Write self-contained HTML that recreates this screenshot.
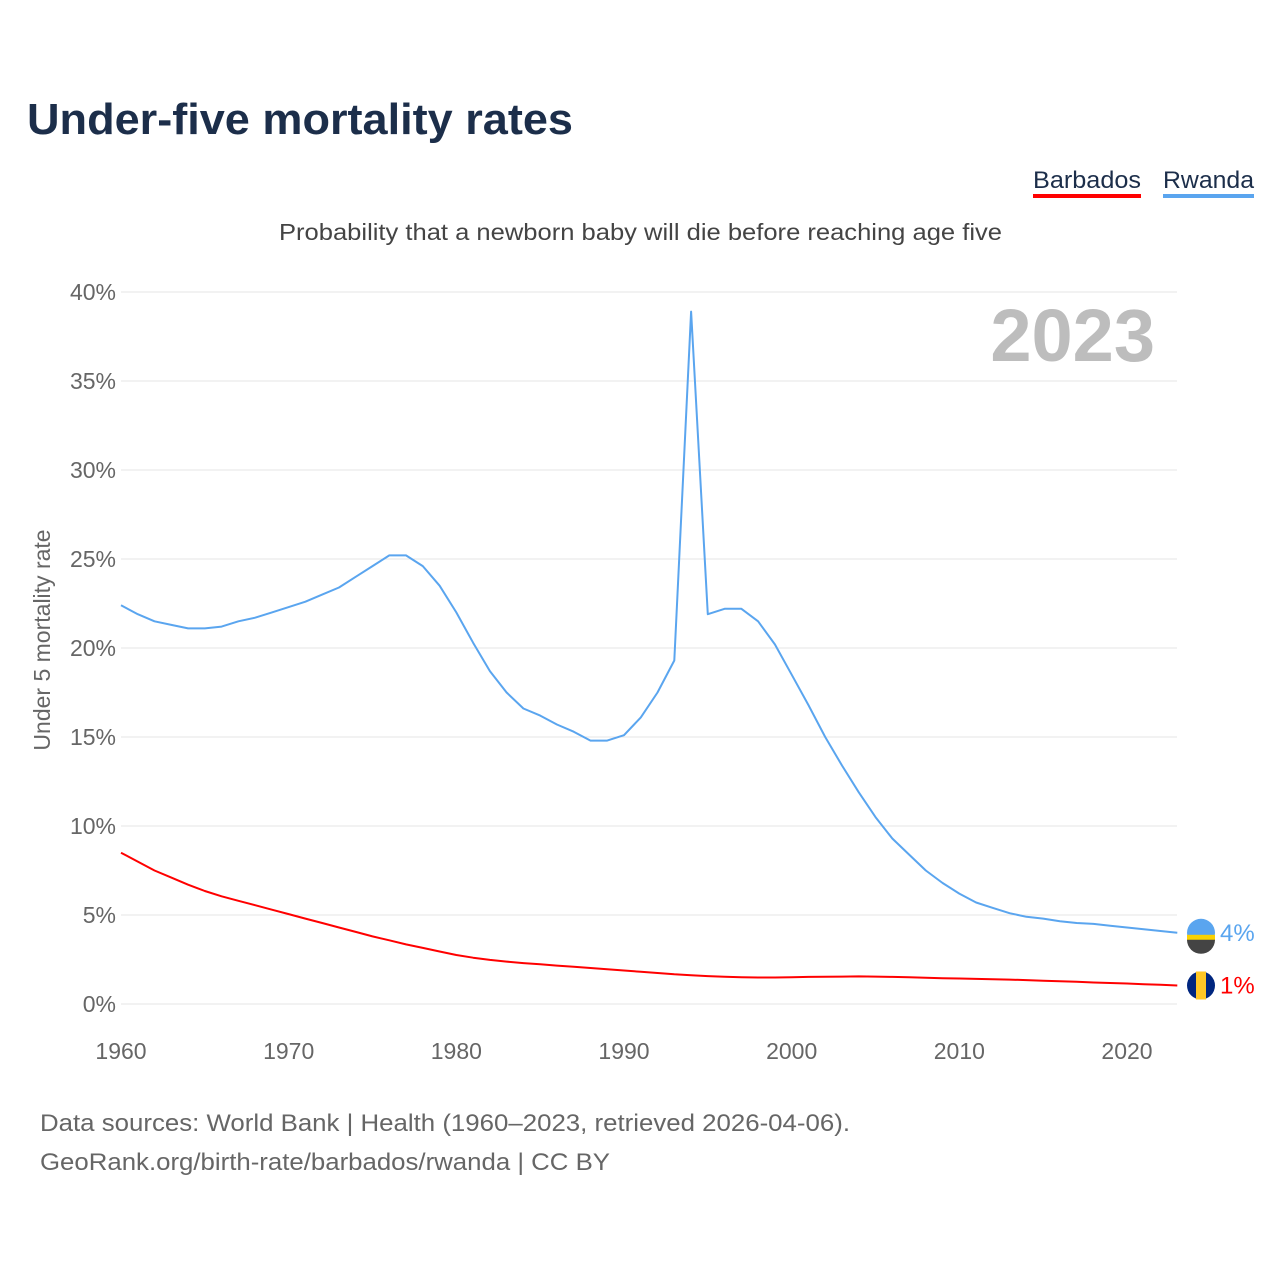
<!DOCTYPE html>
<html><head><meta charset="utf-8"><style>
body{margin:0;background:#fff;font-family:"Liberation Sans",sans-serif;}
</style></head><body>
<svg width="1280" height="1280" viewBox="0 0 1280 1280" xmlns="http://www.w3.org/2000/svg" font-family="Liberation Sans, sans-serif">
<text x="27" y="134" font-size="44" font-weight="bold" fill="#1c2e4a" textLength="546" lengthAdjust="spacingAndGlyphs">Under-five mortality rates</text>
<g><text x="1033" y="188" font-size="24" fill="#1c2e4a" textLength="108" lengthAdjust="spacingAndGlyphs">Barbados</text><rect x="1033" y="194" width="108" height="4" fill="#ff0000"/></g>
<g><text x="1163" y="188" font-size="24" fill="#1c2e4a" textLength="91" lengthAdjust="spacingAndGlyphs">Rwanda</text><rect x="1163" y="194" width="91" height="4" fill="#5aa5ef"/></g>
<text x="279" y="240" font-size="23" fill="#444" textLength="723" lengthAdjust="spacingAndGlyphs">Probability that a newborn baby will die before reaching age five</text>
<text x="1155" y="361" font-size="74" font-weight="bold" fill="#bdbdbd" text-anchor="end">2023</text>
<text transform="translate(50,640) rotate(-90)" font-size="23" fill="#666" text-anchor="middle">Under 5 mortality rate</text>
<g id="grid"></g><g id="series"></g>
<text x="40" y="1131" font-size="24" fill="#666" textLength="810" lengthAdjust="spacingAndGlyphs">Data sources: World Bank | Health (1960–2023, retrieved 2026-04-06).</text>
<text x="40" y="1170" font-size="24" fill="#666" textLength="570" lengthAdjust="spacingAndGlyphs">GeoRank.org/birth-rate/barbados/rwanda | CC BY</text>
</svg>
<script>
const years=[];for(let y=1960;y<=2023;y++)years.push(y);
const rwanda=[22.4,21.9,21.5,21.3,21.1,21.1,21.2,21.5,21.7,22.0,22.3,22.6,23.0,23.4,24.0,24.6,25.2,25.2,24.6,23.5,22.0,20.3,18.7,17.5,16.6,16.2,15.7,15.3,14.8,14.8,15.1,16.1,17.5,19.3,38.9,21.9,22.2,22.2,21.5,20.2,18.5,16.8,15.0,13.4,11.9,10.5,9.3,8.4,7.5,6.8,6.2,5.7,5.4,5.1,4.9,4.8,4.65,4.55,4.5,4.4,4.3,4.2,4.1,4.0];
const barbados=[8.5,8.0,7.5,7.1,6.7,6.35,6.05,5.8,5.55,5.3,5.05,4.8,4.55,4.3,4.05,3.8,3.58,3.35,3.15,2.95,2.75,2.6,2.48,2.38,2.3,2.23,2.16,2.09,2.02,1.95,1.88,1.81,1.74,1.67,1.62,1.57,1.53,1.5,1.49,1.49,1.5,1.52,1.53,1.54,1.55,1.54,1.52,1.5,1.47,1.45,1.43,1.41,1.39,1.37,1.34,1.31,1.28,1.25,1.21,1.18,1.15,1.11,1.08,1.04];
const yTicks=[0,5,10,15,20,25,30,35,40];
const xTicks=[1960,1970,1980,1990,2000,2010,2020];
const NS="http://www.w3.org/2000/svg";
const xs=y=>121+(y-1960)*(1006/60);
const ys=v=>1004-v*17.8;
const grid=document.getElementById('grid'),ser=document.getElementById('series');
function mk(t,a,p){const e=document.createElementNS(NS,t);for(const k in a)e.setAttribute(k,a[k]);p.appendChild(e);return e;}
yTicks.forEach(v=>{
 const l=mk('line',{x1:121,x2:1177,y1:ys(v),y2:ys(v),stroke:'#e6e6e6','stroke-width':1},grid);
 
 
 const t=mk('text',{x:116,y:ys(v)+8,'font-size':23,fill:'#666','text-anchor':'end'},grid);t.textContent=v+'%';
 
 
});
xTicks.forEach(y=>{
 const t=mk('text',{x:xs(y),y:1059,'font-size':23,fill:'#666','text-anchor':'middle'},grid);t.textContent=y;
 
 
});
function line(data,color,name){
 const d=data.map((v,i)=>(i?'L':'M')+xs(years[i]).toFixed(1)+','+ys(v).toFixed(1)).join('');
 const p=mk('path',{d:d,fill:'none',stroke:color,'stroke-width':2,'stroke-linejoin':'round'},ser);
 
 
 const last=data[data.length-1],cx=1201,cy=ys(last);
 const c=mk('circle',{cx:cx,cy:cy,r:14,fill:name==='rwanda'?'#5aa5ef':'#00267f'},ser);
 
 
 if(name==='barbados'){mk('rect',{x:cx-5,y:cy-14,width:10,height:28,fill:'#ffc726'},ser);}
 else{mk('rect',{x:cx-14,y:cy+2,width:28,height:6,fill:'#fad201'},ser);mk('path',{d:`M${cx-14},${cy+7}A14,14 0 0 0 ${cx+14},${cy+7}Z`,fill:'#444'},ser);}
 const t=mk('text',{x:1220,y:cy+8,'font-size':24,fill:color},ser);t.textContent=Math.round(last)+'%';
 
 
}
line(rwanda,'#5aa5ef','rwanda');
line(barbados,'#ff0000','barbados');
</script>
</body></html>
